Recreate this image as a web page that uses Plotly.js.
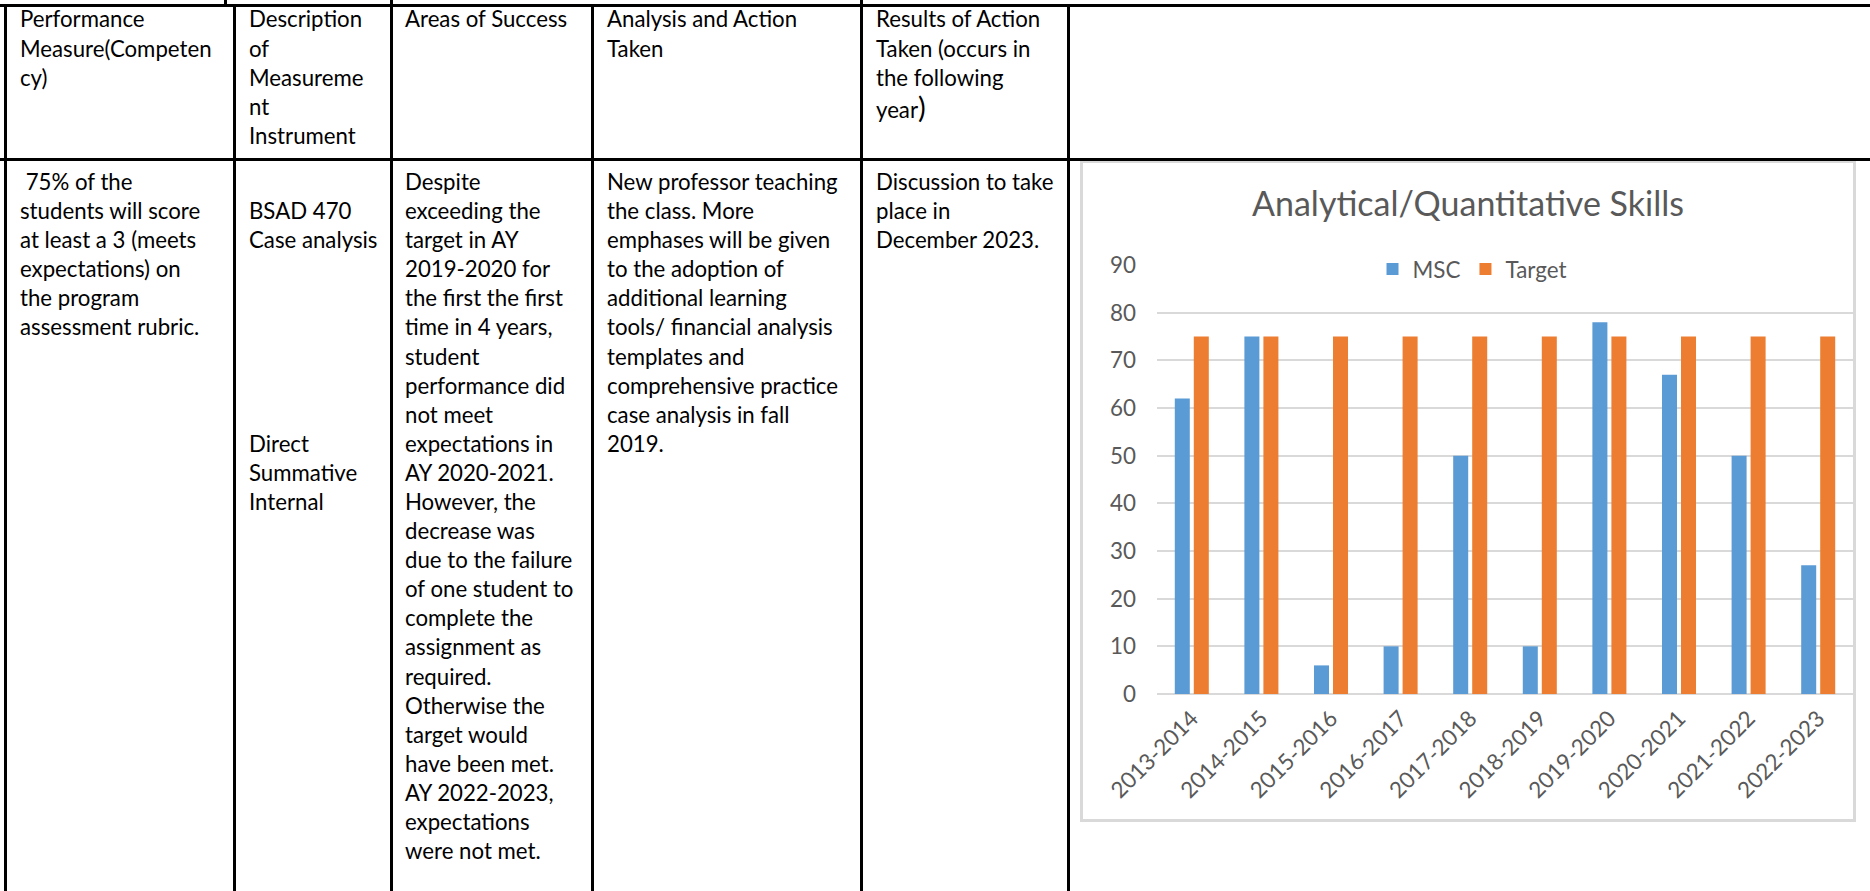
<!DOCTYPE html>
<html>
<head>
<meta charset="utf-8">
<script src="https://cdn.plot.ly/plotly-3.0.1.min.js"></script>
<style>
  html, body { margin: 0; padding: 0; background: #fff; }
  #page { position: relative; width: 1870px; height: 891px; overflow: hidden; background: #fff;
          font-family: Lato, "Open Sans", sans-serif; color: #000; }
  .hl { position: absolute; background: #000; height: 3px; }
  .vl { position: absolute; background: #000; width: 3px; }
  .cell { position: absolute; white-space: pre; }
  #chartBox { position: absolute; left: 1080px; top: 160px; width: 770px; height: 656px;
              border: 3px solid #d9d9d9; background: #fff; }
  #chart { width: 770px; height: 656px; }
</style>
</head>
<body>
<div id="page">
  <div id="chartBox"><div id="chart"></div></div>
</div>
<script>
// ---------------- data ----------------
const categories = ['2013-2014', '2014-2015', '2015-2016', '2016-2017', '2017-2018',
                    '2018-2019', '2019-2020', '2020-2021', '2021-2022', '2022-2023'];
const mscValues = [62, 75, 6, 10, 50, 10, 78, 67, 50, 27];
const targetValues = [75, 75, 75, 75, 75, 75, 75, 75, 75, 75];
const seriesNames = ['MSC', 'Target'];
const chartTitle = 'Analytical/Quantitative Skills';

// table text (one entry per printed line)
const headerCol1 = ['Performance', 'Measure(Competen', 'cy)'];
const headerCol2 = ['Description', 'of', 'Measureme', 'nt', 'Instrument'];
const headerCol3 = ['Areas of Success'];
const headerCol4 = ['Analysis and Action', 'Taken'];
const headerCol5 = ['Results of Action', 'Taken (occurs in', 'the following', 'year)'];

const bodyCol1 = [' 75% of the', 'students will score', 'at least a 3 (meets', 'expectations) on',
                  'the program', 'assessment rubric.'];
const bodyCol2 = ['', 'BSAD 470', 'Case analysis', '', '', '', '', '', '', 'Direct', 'Summative', 'Internal'];
const bodyCol3 = ['Despite', 'exceeding the', 'target in AY', '2019-2020 for', 'the first the first',
                  'time in 4 years,', 'student', 'performance did', 'not meet', 'expectations in',
                  'AY 2020-2021.', 'However, the', 'decrease was', 'due to the failure',
                  'of one student to', 'complete the', 'assignment as', 'required.', 'Otherwise the',
                  'target would', 'have been met.', 'AY 2022-2023,', 'expectations', 'were not met.'];
const bodyCol4 = ['New professor teaching', 'the class. More', 'emphases will be given',
                  'to the adoption of', 'additional learning', 'tools/ financial analysis',
                  'templates and', 'comprehensive practice', 'case analysis in fall', '2019.'];
const bodyCol5 = ['Discussion to take', 'place in', 'December 2023.'];

// ---------------- layout helpers ----------------
const FAMILY = 'Lato';
const canvas = document.createElement('canvas');
const ctx = canvas.getContext('2d');
function measure(text, size) {
  ctx.font = size + 'px ' + FAMILY;
  return ctx.measureText(text);
}
function fitSize(text, targetWidth) {
  return 100 * targetWidth / measure(text, 100).width;
}

function build() {
  const page = document.getElementById('page');

  // --- table rules ---
  function hline(y, x0, x1) {
    const d = document.createElement('div'); d.className = 'hl';
    d.style.top = y + 'px'; d.style.left = x0 + 'px'; d.style.width = (x1 - x0) + 'px';
    page.appendChild(d);
  }
  function vline(x, y0, y1) {
    const d = document.createElement('div'); d.className = 'vl';
    d.style.left = x + 'px'; d.style.top = y0 + 'px'; d.style.height = (y1 - y0) + 'px';
    page.appendChild(d);
  }
  hline(4, 0, 1870);
  hline(158, 0, 1870);
  [4, 233, 390, 591, 860, 1067].forEach(x => vline(x, 4, 891));
  [224, 390, 860].forEach(x => vline(x, 0, 5));

  // --- table text ---
  const bodySize = (fitSize('New professor teaching', 230) + fitSize('students will score', 182)) / 2;
  const lineH = 29.1;
  const m = measure('Hg', bodySize);
  const asc = m.fontBoundingBoxAscent, desc = m.fontBoundingBoxDescent;
  const baseOff = (lineH - (asc + desc)) / 2 + asc;

  function cell(lines, x, firstBaseline) {
    const d = document.createElement('div'); d.className = 'cell';
    d.style.left = x + 'px';
    d.style.top = (firstBaseline - baseOff) + 'px';
    d.style.fontSize = bodySize + 'px';
    d.style.lineHeight = lineH + 'px';
    lines.forEach((t) => {
      const ln = document.createElement('div');
      if (t === 'year)') {
        ln.appendChild(document.createTextNode(t.slice(0, -1)));
        const s = document.createElement('span');
        s.style.fontSize = '1.3em';
        s.textContent = ')';
        ln.appendChild(s);
      } else {
        ln.textContent = t === '' ? ' ' : t;
      }
      ln.style.height = lineH + 'px';
      d.appendChild(ln);
    });
    page.appendChild(d);
  }
  const colX = [20, 249, 405, 607, 876];
  const headBase = 27.5, bodyBase = 190;
  [headerCol1, headerCol2, headerCol3, headerCol4, headerCol5].forEach((c, i) => cell(c, colX[i], headBase));
  [bodyCol1, bodyCol2, bodyCol3, bodyCol4, bodyCol5].forEach((c, i) => cell(c, colX[i], bodyBase));

  // --- chart ---
  const tickSize = fitSize('Target', 61);
  const titleSize = fitSize(chartTitle, 432);

  const traces = [
    { type: 'bar', name: seriesNames[0], x: categories, y: mscValues,
      marker: { color: '#5B9BD5', line: { width: 0 } } },
    { type: 'bar', name: seriesNames[1], x: categories, y: targetValues,
      marker: { color: '#ED7D31', line: { width: 0 } } }
  ];
  const layout = {
    width: 770, height: 656,
    margin: { l: 74, r: 0, t: 102, b: 125, pad: 0, autoexpand: false },
    paper_bgcolor: '#ffffff', plot_bgcolor: '#ffffff',
    font: { family: FAMILY, color: '#595959', size: tickSize },
    title: { text: chartTitle, font: { family: FAMILY, size: titleSize, color: '#595959' },
             x: 0.5, xanchor: 'center', xref: 'container', y: 0.937, yanchor: 'middle', yref: 'container' },
    barmode: 'group', bargap: 0.454, bargroupgap: 0.21,
    showlegend: true,
    legend: { orientation: 'h', x: 0.4526, xanchor: 'center', y: 0.9895, yanchor: 'middle',
              bgcolor: '#ffffff', borderwidth: 0, font: { family: FAMILY, size: tickSize, color: '#595959' },
              traceorder: 'normal', itemwidth: 30 },
    xaxis: { type: 'category', tickangle: -45, showgrid: false, ticks: '', showline: false,
             zeroline: false, ticklabelstandoff: 6, tickfont: { size: tickSize, color: '#595959' },
             automargin: false, fixedrange: true },
    yaxis: { range: [0, 90], tick0: 0, dtick: 10, showgrid: true, gridcolor: '#d9d9d9', gridwidth: 2,
             zeroline: true, zerolinecolor: '#d9d9d9', zerolinewidth: 2, showline: false, ticks: '',
             ticklabelstandoff: 20, tickfont: { size: tickSize, color: '#595959' },
             automargin: false, fixedrange: true }
  };
  Plotly.newPlot('chart', traces, layout, { staticPlot: true, displayModeBar: false });
}

if (document.fonts && document.fonts.load) {
  Promise.all([document.fonts.load('24px Lato')]).then(build, build);
} else {
  build();
}
</script>
</body>
</html>
